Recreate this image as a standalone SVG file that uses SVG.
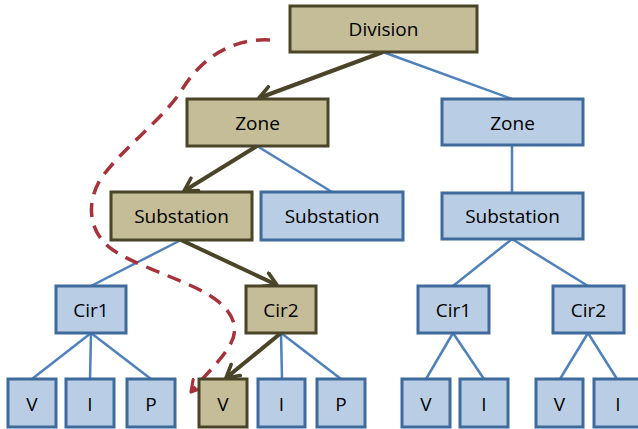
<svg xmlns="http://www.w3.org/2000/svg" width="638" height="429" viewBox="0 0 638 429">
<defs>
<style>
.tan rect{fill:#C4BD97;stroke:#4A4528;stroke-width:3}
.blue rect{fill:#B9CDE5;stroke:#3F6A9C;stroke-width:3}
text{font-family:"Open Sans","Liberation Sans",sans-serif;font-size:19px;fill:#000;text-anchor:middle;dominant-baseline:central}
.bl{stroke:#4F81BD;stroke-width:2.5;fill:none}
.ta{stroke:#4A4528;stroke-width:4;fill:none;marker-end:url(#ah)}
.rd{stroke:#A8323A;stroke-width:3.5;fill:none;stroke-dasharray:14 9;marker-end:url(#rh)}
</style>
<marker id="ah" viewBox="0 0 10 10" refX="8" refY="5" markerWidth="4.5" markerHeight="4.5" orient="auto" markerUnits="strokeWidth">
<path d="M1,1 L8,5 L1,9" fill="none" stroke="#4A4528" stroke-width="2" stroke-linecap="round" stroke-linejoin="round"/>
</marker>
<marker id="rh" viewBox="0 0 10 10" refX="8" refY="5" markerWidth="4.5" markerHeight="4.5" orient="auto" markerUnits="strokeWidth">
<path d="M1,1 L8,5 L1,9" fill="none" stroke="#A8323A" stroke-width="2" stroke-linecap="round" stroke-linejoin="round"/>
</marker>
</defs>
<rect width="638" height="429" fill="#fff"/>
<g id="connectors">
<line class="bl" x1="383" y1="52" x2="512" y2="99"/>
<line class="bl" x1="257" y1="146" x2="332" y2="192"/>
<line class="bl" x1="512" y1="145" x2="512" y2="193"/>
<line class="bl" x1="181" y1="240" x2="91" y2="286"/>
<line class="bl" x1="512" y1="239" x2="453" y2="286"/>
<line class="bl" x1="512" y1="239" x2="588" y2="286"/>
<line class="bl" x1="91" y1="333" x2="32" y2="379"/>
<line class="bl" x1="91" y1="333" x2="90" y2="379"/>
<line class="bl" x1="91" y1="333" x2="151" y2="379"/>
<line class="bl" x1="281" y1="333" x2="282" y2="379"/>
<line class="bl" x1="281" y1="333" x2="341" y2="379"/>
<line class="bl" x1="453" y1="333" x2="426" y2="379"/>
<line class="bl" x1="453" y1="333" x2="484" y2="379"/>
<line class="bl" x1="588" y1="333" x2="560" y2="379"/>
<line class="bl" x1="588" y1="333" x2="617" y2="379"/>
<line class="ta" x1="383" y1="52" x2="259" y2="98"/>
<line class="ta" x1="257" y1="146" x2="184" y2="191"/>
<line class="ta" x1="181" y1="240" x2="277" y2="285"/>
<line class="ta" x1="281" y1="333" x2="226" y2="378"/>
<path class="rd" d="M270 40 C232 38 202 58 183 88 C165 118 120 150 100 180 C85 205 90 235 113 250 C135 265 170 275 200 290 C230 305 242 325 230 345 C220 362 205 375 191 392"/>
</g>
<g id="division" class="tan"><rect x="290" y="6" width="187" height="46"/><text x="383.5" y="29">Division</text></g>
<g id="zone1" class="tan"><rect x="187" y="99" width="141" height="47"/><text x="257.5" y="123">Zone</text></g>
<g id="zone2" class="blue"><rect x="442" y="99" width="141" height="46"/><text x="512.5" y="123">Zone</text></g>
<g id="sub1" class="tan"><rect x="111" y="192" width="141" height="48"/><text x="181.5" y="216">Substation</text></g>
<g id="sub2" class="blue"><rect x="261" y="192" width="142" height="48"/><text x="332" y="216">Substation</text></g>
<g id="sub3" class="blue"><rect x="442" y="193" width="141" height="46"/><text x="512.5" y="216">Substation</text></g>
<g id="cir1a" class="blue"><rect x="56" y="286" width="70" height="47"/><text x="91" y="310">Cir1</text></g>
<g id="cir2a" class="tan"><rect x="246" y="286" width="70" height="47"/><text x="281" y="310">Cir2</text></g>
<g id="cir1b" class="blue"><rect x="418" y="286" width="71" height="47"/><text x="453.5" y="310">Cir1</text></g>
<g id="cir2b" class="blue"><rect x="553" y="286" width="71" height="47"/><text x="588.5" y="310">Cir2</text></g>
<g id="v1" class="blue"><rect x="8" y="379" width="48" height="48"/><text x="32" y="404">V</text></g>
<g id="i1" class="blue"><rect x="66" y="379" width="48" height="48"/><text x="90" y="404">I</text></g>
<g id="p1" class="blue"><rect x="127" y="379" width="48" height="48"/><text x="151" y="404">P</text></g>
<g id="v2" class="tan"><rect x="199" y="379" width="48" height="48"/><text x="223" y="404">V</text></g>
<g id="i2" class="blue"><rect x="258" y="379" width="47" height="48"/><text x="281.5" y="404">I</text></g>
<g id="p2" class="blue"><rect x="317" y="379" width="48" height="48"/><text x="341" y="404">P</text></g>
<g id="v3" class="blue"><rect x="402" y="379" width="48" height="48"/><text x="426" y="404">V</text></g>
<g id="i3" class="blue"><rect x="460" y="379" width="48" height="48"/><text x="484" y="404">I</text></g>
<g id="v4" class="blue"><rect x="536" y="379" width="47" height="48"/><text x="559.5" y="404">V</text></g>
<g id="i4" class="blue"><rect x="594" y="379" width="48" height="48"/><text x="618" y="404">I</text></g>
</svg>
